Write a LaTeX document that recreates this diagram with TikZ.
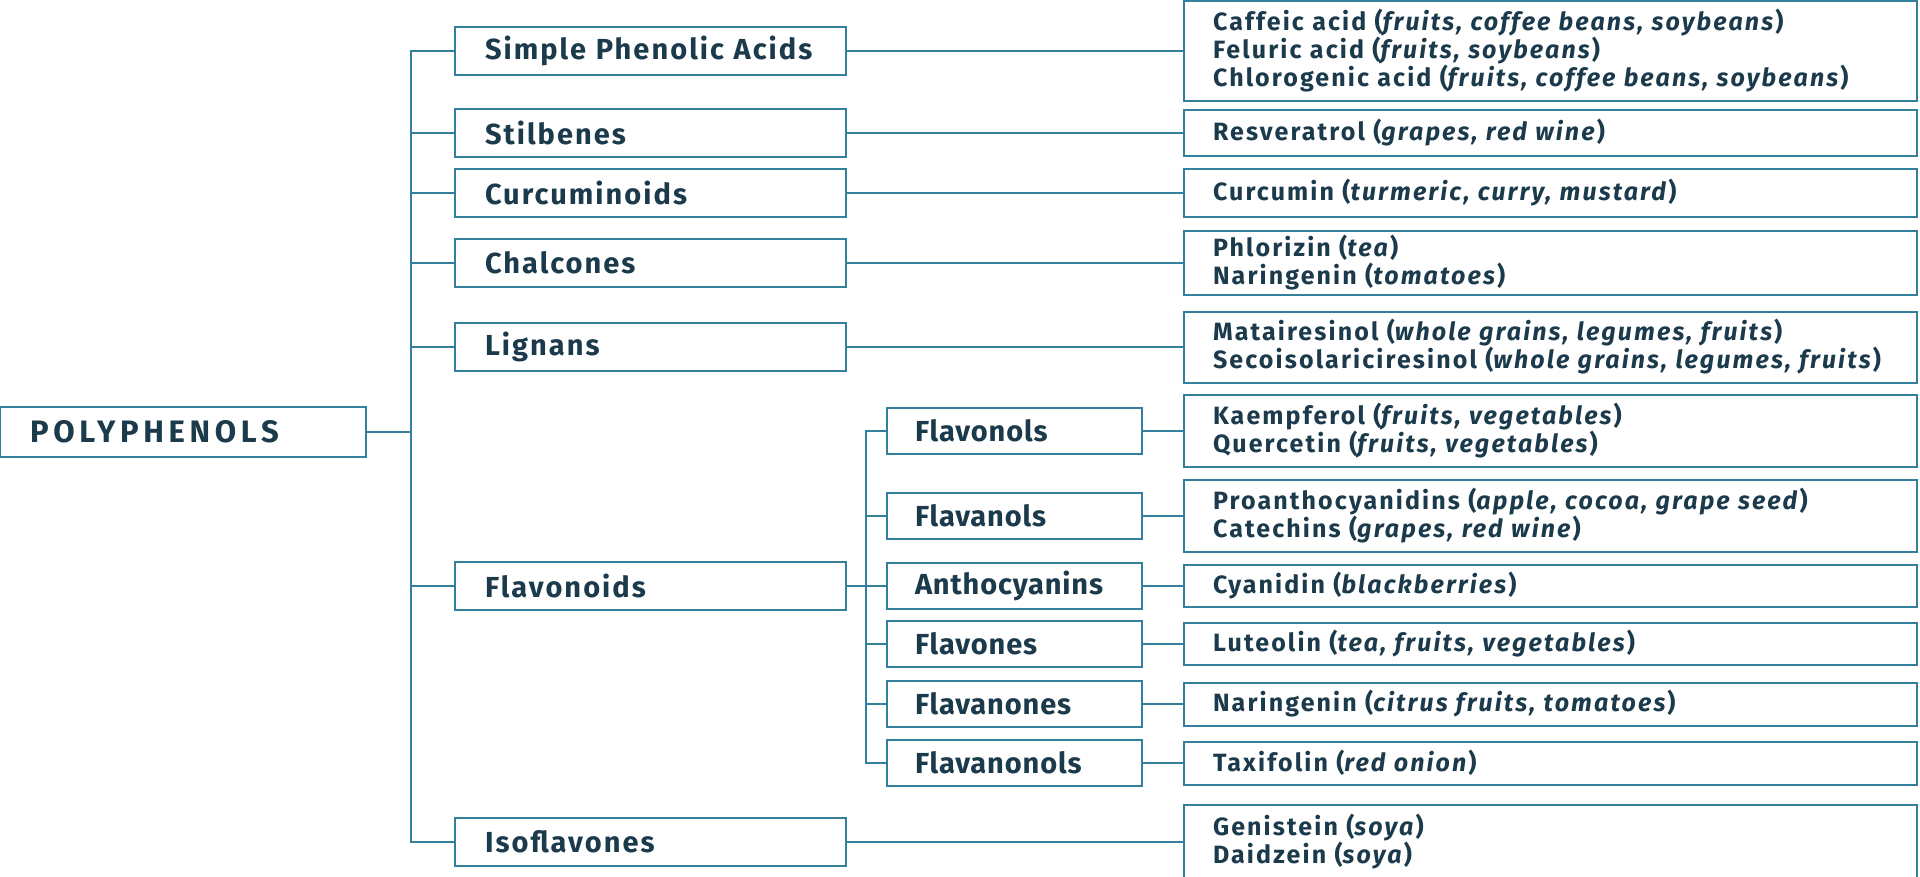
\documentclass[tikz,border=0pt]{standalone}
\usepackage{fontspec}
\setmainfont{Fira Sans}
\newfontfamily\rootfont{Fira Sans}[LetterSpace=15]
\newfontfamily\grpfont{Fira Sans}[LetterSpace=7]
\newfontfamily\subfont{Fira Sans}[LetterSpace=3]
\newfontfamily\srcfont{Fira Sans}[LetterSpace=8.5]
\definecolor{boxblue}{RGB}{50,128,155}
\definecolor{inkblue}{RGB}{27,58,75}
\tikzstyle{root} = [rectangle, draw=boxblue, line width=2pt, minimum width=366pt, minimum height=50pt, inner xsep=30pt, text width=306pt, align=left, text=inkblue, font=\fontsize{31}{36}\selectfont\rootfont\bfseries]
\tikzstyle{group} = [rectangle, draw=boxblue, line width=2pt, minimum width=391pt, minimum height=48pt, inner xsep=30pt, text width=331pt, align=left, text=inkblue, font=\fontsize{29}{34}\selectfont\grpfont\bfseries]
\tikzstyle{subgroup} = [rectangle, draw=boxblue, line width=2pt, minimum width=255pt, minimum height=46pt, inner xsep=28pt, text width=199pt, align=left, text=inkblue, font=\fontsize{29}{34}\selectfont\subfont\bfseries]
\tikzstyle{source} = [rectangle, draw=boxblue, line width=2pt, minimum width=733pt, inner xsep=29pt, text width=675pt, align=left, text=inkblue, font=\fontsize{25}{28}\selectfont\srcfont\bfseries]
\tikzstyle{link} = [line width=2pt, draw=boxblue]

\begin{document}
\begin{tikzpicture}[x=1pt, y=-1pt]
    \useasboundingbox (0,0) rectangle (1920,876);

    \node (poly) [root] at (183,432) {POLYPHENOLS};

    \node (spa) [group] at (650.5,51) {Simple Phenolic Acids};
    \node (stil) [group] at (650.5,132.5) {Stilbenes};
    \node (curc) [group] at (650.5,193) {Curcuminoids};
    \node (chal) [group] at (650.5,263) {Chalcones};
    \node (lign) [group] at (650.5,347) {Lignans};
    \node (flav) [group] at (650.5,586) {Flavonoids};
    \node (iso) [group] at (650.5,842) {Isoflavones};

    \node (fnol) [subgroup] at (1014.5,431) {Flavonols};
    \node (fanol) [subgroup] at (1014.5,516) {Flavanols};
    \node (antho) [subgroup] at (1014.5,586) {Anthocyanins};
    \node (fone) [subgroup] at (1014.5,644) {Flavones};
    \node (fanone) [subgroup] at (1014.5,704) {Flavanones};
    \node (fanonol) [subgroup] at (1014.5,763) {Flavanonols};

    \node (src1) [source, minimum height=100pt] at (1550.5,51) {Caffeic acid (\textit{fruits, coffee beans, soybeans})\\Feluric acid (\textit{fruits, soybeans})\\Chlorogenic acid (\textit{fruits, coffee beans, soybeans})};
    \node (src2) [source, minimum height=46pt] at (1550.5,132.5) {Resveratrol (\textit{grapes, red wine})};
    \node (src3) [source, minimum height=48pt] at (1550.5,193) {Curcumin (\textit{turmeric, curry, mustard})};
    \node (src4) [source, minimum height=64pt] at (1550.5,263) {Phlorizin (\textit{tea})\\Naringenin (\textit{tomatoes})};
    \node (src5) [source, minimum height=71pt] at (1550.5,347) {Matairesinol (\textit{whole grains, legumes, fruits})\\Secoisolariciresinol (\textit{whole grains, legumes, fruits})};
    \node (src6) [source, minimum height=72pt] at (1550.5,431) {Kaempferol (\textit{fruits, vegetables})\\Quercetin (\textit{fruits, vegetables})};
    \node (src7) [source, minimum height=72pt] at (1550.5,516) {Proanthocyanidins (\textit{apple, cocoa, grape seed})\\Catechins (\textit{grapes, red wine})};
    \node (src8) [source, minimum height=42pt] at (1550.5,586) {Cyanidin (\textit{blackberries})};
    \node (src9) [source, minimum height=42pt] at (1550.5,644) {Luteolin (\textit{tea, fruits, vegetables})};
    \node (src10) [source, minimum height=43pt] at (1550.5,704) {Naringenin (\textit{citrus fruits, tomatoes})};
    \node (src11) [source, minimum height=43pt] at (1550.5,763) {Taxifolin (\textit{red onion})};
    \node (src12) [source, minimum height=74pt] at (1550.5,842) {Genistein (\textit{soya})\\Daidzein (\textit{soya})};

    \coordinate (trunk) at (411,432);
    \coordinate (subtrunk) at (866,586);

    \draw [link] (poly) -- (trunk);
    \draw [link] (trunk) |- (spa);
    \draw [link] (trunk) |- (stil);
    \draw [link] (trunk) |- (curc);
    \draw [link] (trunk) |- (chal);
    \draw [link] (trunk) |- (lign);
    \draw [link] (trunk) |- (flav);
    \draw [link] (trunk) |- (iso);

    \draw [link] (flav) -- (subtrunk);
    \draw [link] (subtrunk) |- (fnol);
    \draw [link] (subtrunk) |- (fanol);
    \draw [link] (subtrunk) -- (antho);
    \draw [link] (subtrunk) |- (fone);
    \draw [link] (subtrunk) |- (fanone);
    \draw [link] (subtrunk) |- (fanonol);

    \draw [link] (spa) -- (src1);
    \draw [link] (stil) -- (src2);
    \draw [link] (curc) -- (src3);
    \draw [link] (chal) -- (src4);
    \draw [link] (lign) -- (src5);
    \draw [link] (fnol) -- (src6);
    \draw [link] (fanol) -- (src7);
    \draw [link] (antho) -- (src8);
    \draw [link] (fone) -- (src9);
    \draw [link] (fanone) -- (src10);
    \draw [link] (fanonol) -- (src11);
    \draw [link] (iso) -- (src12);

\end{tikzpicture}
\end{document}
